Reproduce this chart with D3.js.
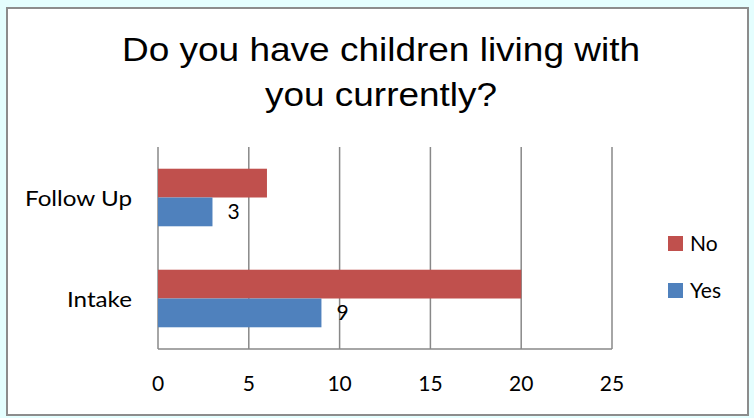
<!DOCTYPE html>
<html><head><meta charset="utf-8">
<script src="https://cdn.jsdelivr.net/npm/d3@7"></script>
<style>body{margin:0;background:#e4fefe;} svg{display:block;}</style>
</head><body>
<svg id="c" width="754" height="418"></svg>
<script>
const categories = ["Follow Up", "Intake"];
const seriesNames = ["No", "Yes"];
const noValues = [6, 20];
const yesValues = [3, 9];
const xTicks = [0, 5, 10, 15, 20, 25];
const colors = {No: "#c0504d", Yes: "#4f81bd"};
const titleLines = ["Do you have children living with", "you currently?"];

const svg = d3.select("#c");
svg.append("rect").attr("x", 7).attr("y", 8).attr("width", 741).attr("height", 407)
  .attr("fill", "#fff").attr("stroke", "#8c8c8c").attr("stroke-width", 2);

const titleW = [518, 232];
titleLines.forEach((l, i) => svg.append("text").attr("text-anchor", "middle")
  .attr("font-family", "Liberation Sans, Arial, sans-serif").attr("font-size", 33).attr("fill", "#000")
  .attr("x", 381).attr("y", 61 + i * 45)
  .attr("textLength", titleW[i]).attr("lengthAdjust", "spacingAndGlyphs").text(l));

const x = d3.scaleLinear().domain([0, 25]).range([158, 612]);
const y = d3.scaleBand().domain(categories).range([147, 349]).paddingInner(0.43).paddingOuter(0.215);
const sub = d3.scaleBand().domain(seriesNames).range([0, y.bandwidth()]);

const font = "Lato, Carlito, sans-serif";
// gridlines
svg.append("g").selectAll("line").data(xTicks).join("line")
  .attr("x1", d => x(d)).attr("x2", d => x(d)).attr("y1", 147).attr("y2", 349)
  .attr("stroke", "#888").attr("stroke-width", 1.5);
svg.append("line").attr("x1", x(0)).attr("x2", x(25)).attr("y1", 349).attr("y2", 349)
  .attr("stroke", "#888").attr("stroke-width", 1.5);

const rows = categories.map((c, i) => ({c, No: noValues[i], Yes: yesValues[i]}));
seriesNames.forEach(s => {
  svg.append("g").selectAll("rect").data(rows).join("rect")
    .attr("x", x(0)).attr("y", d => y(d.c) + sub(s))
    .attr("width", d => x(d[s]) - x(0)).attr("height", sub.bandwidth())
    .attr("fill", colors[s]);
});
// data labels (Yes only)
svg.append("g").selectAll("text").data(rows).join("text")
  .attr("x", d => x(d.Yes) + 15).attr("y", d => y(d.c) + sub("Yes") + sub.bandwidth() / 2 + 7)
  .attr("font-family", font).attr("font-size", 21).text(d => d.Yes);

// y labels
const catW = {"Follow Up": 107, "Intake": 65};
svg.append("g").selectAll("text").data(categories).join("text")
  .attr("x", 132).attr("y", d => y(d) + y.bandwidth() / 2 + 8).attr("text-anchor", "end")
  .attr("font-family", font).attr("font-size", 21)
  .attr("textLength", d => catW[d]).attr("lengthAdjust", "spacingAndGlyphs").text(d => d);

// x tick labels
svg.append("g").selectAll("text").data(xTicks).join("text")
  .attr("x", d => x(d)).attr("y", 391).attr("text-anchor", "middle")
  .attr("font-family", font).attr("font-size", 21).text(d => d);

// legend
const leg = ["No", "Yes"];
leg.forEach((s, i) => {
  const ly = 243 + i * 47;
  svg.append("rect").attr("x", 668).attr("y", ly - 7).attr("width", 15).attr("height", 15).attr("fill", colors[s]);
  svg.append("text").attr("x", 690).attr("y", ly + 8).attr("font-family", font).attr("font-size", 21).text(s);
});
</script>
</body></html>
